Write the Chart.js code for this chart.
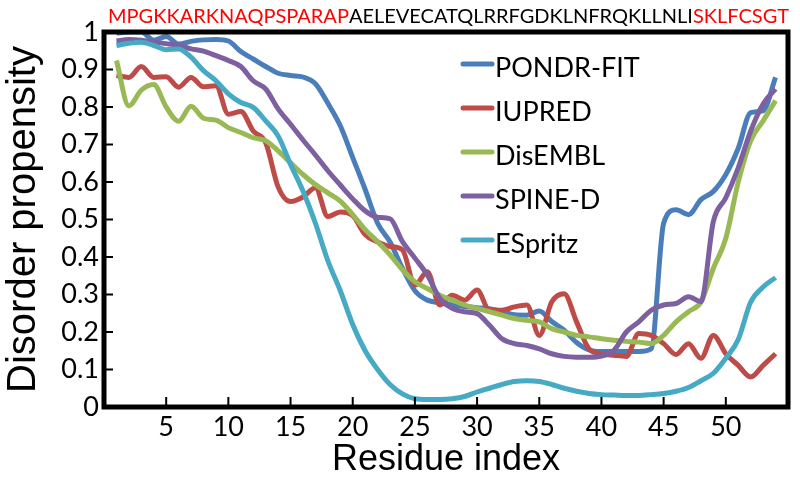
<!DOCTYPE html>
<html>
<head>
<meta charset="utf-8">
<script src="https://cdn.jsdelivr.net/npm/chart.js@4.4.1/dist/chart.umd.min.js"></script>
<style>
  html, body { margin: 0; padding: 0; background: #fff; }
</style>
</head>
<body>
<canvas id="chart" width="800" height="482"></canvas>
<script>
// residue positions along the sequence
const residues = [1, 2, 3, 4, 5, 6, 7, 8, 9, 10, 11, 12, 13, 14, 15, 16, 17, 18,
  19, 20, 21, 22, 23, 24, 25, 26, 27, 28, 29, 30, 31, 32, 33, 34, 35, 36,
  37, 38, 39, 40, 41, 42, 43, 44, 45, 46, 47, 48, 49, 50, 51, 52, 53, 54];

// sequence shown above the plot (red = disordered ends)
const seqStart = "MPGKKARKNAQPSPARAP";
const seqMiddle = "AELEVECATQLRRFGDKLNFRQKLLNLI";
const seqEnd = "SKLFCSGT";

const seriesNames = ["PONDR-FIT", "IUPRED", "DisEMBL", "SPINE-D", "ESpritz"];
const seriesColors = ["#4a7ebb", "#be4b48", "#98b954", "#7d60a0", "#46aac5"];

const pondrFit = [0.997, 1.0, 1.0, 0.978, 0.988, 0.968, 0.975, 0.979, 0.98, 0.976,
  0.948, 0.928, 0.908, 0.89, 0.884, 0.88, 0.862, 0.81, 0.75, 0.665,
  0.58, 0.49, 0.44, 0.37, 0.31, 0.285, 0.278, 0.272, 0.268, 0.265,
  0.262, 0.255, 0.246, 0.245, 0.256, 0.228, 0.205, 0.172, 0.152, 0.148,
  0.148, 0.148, 0.148, 0.155, 0.49, 0.526, 0.513, 0.553, 0.575, 0.62,
  0.69, 0.785, 0.79, 0.879];

const iupred = [0.884, 0.879, 0.908, 0.879, 0.881, 0.853, 0.879, 0.854, 0.857, 0.781,
  0.788, 0.736, 0.705, 0.587, 0.548, 0.56, 0.585, 0.508, 0.52, 0.51,
  0.46, 0.44, 0.428, 0.419, 0.325, 0.361, 0.272, 0.298, 0.285, 0.312,
  0.258, 0.258, 0.267, 0.272, 0.191, 0.28, 0.302, 0.227, 0.155, 0.142,
  0.138, 0.135, 0.196, 0.191, 0.169, 0.14, 0.169, 0.13, 0.191, 0.142,
  0.111, 0.08, 0.111, 0.142];

const disembl = [0.924, 0.803, 0.845, 0.86, 0.80, 0.762, 0.802, 0.77, 0.765, 0.745,
  0.732, 0.718, 0.71, 0.683, 0.651, 0.62, 0.593, 0.571, 0.549, 0.513,
  0.473, 0.441, 0.406, 0.366, 0.334, 0.316, 0.298, 0.285, 0.272, 0.263,
  0.254, 0.245, 0.236, 0.231, 0.227, 0.209, 0.2, 0.191, 0.187, 0.182,
  0.178, 0.175, 0.173, 0.169, 0.191, 0.227, 0.254, 0.28, 0.37, 0.45,
  0.6, 0.71, 0.763, 0.817];

const spineD = [0.976, 0.98, 0.978, 0.973, 0.969, 0.964, 0.955, 0.949, 0.937, 0.924,
  0.908, 0.87, 0.848, 0.795, 0.754, 0.712, 0.672, 0.63, 0.592, 0.555,
  0.523, 0.506, 0.502, 0.441, 0.397, 0.352, 0.29, 0.263, 0.254, 0.249,
  0.218, 0.182, 0.169, 0.164, 0.155, 0.142, 0.135, 0.133, 0.133, 0.136,
  0.151, 0.2, 0.227, 0.258, 0.272, 0.276, 0.294, 0.281, 0.495, 0.558,
  0.638, 0.736, 0.808, 0.848];

const espritz = [0.964, 0.97, 0.973, 0.964, 0.953, 0.955, 0.933, 0.897, 0.87, 0.835,
  0.812, 0.799, 0.763, 0.723, 0.647, 0.576, 0.49, 0.39, 0.31, 0.22,
  0.15, 0.10, 0.06, 0.035, 0.022, 0.02, 0.02, 0.022, 0.028, 0.04,
  0.05, 0.06, 0.068, 0.07, 0.068, 0.06, 0.05, 0.042, 0.036, 0.033,
  0.032, 0.031, 0.031, 0.033, 0.036, 0.042, 0.052, 0.07, 0.09, 0.13,
  0.18, 0.28, 0.32, 0.345];

const xTickLabels = ["", "5", "10", "15", "20", "25", "30", "35", "40", "45", "50", ""];
const yTickLabels = ["0", "0.1", "0.2", "0.3", "0.4", "0.5", "0.6", "0.7", "0.8", "0.9", "1"];

const allSeries = [pondrFit, iupred, disembl, spineD, espritz];

const tickFont = { family: "Lato", size: 27 };

// thick box round the plot + small inward tick marks
const framePlugin = {
  id: "frame",
  afterDatasetsDraw(chart) {
    const { ctx, chartArea: a, scales } = chart;
    ctx.save();
    ctx.strokeStyle = "#000";
    ctx.lineWidth = 2;
    ctx.beginPath();
    scales.y.ticks.forEach((t, i) => {
      if (i === 0 || i === scales.y.ticks.length - 1) return;
      const y = scales.y.getPixelForValue(t.value);
      ctx.moveTo(a.left, y);
      ctx.lineTo(a.left + 9, y);
    });
    scales.x.ticks.forEach((t, i) => {
      if (i === 0 || i === scales.x.ticks.length - 1) return;
      const x = scales.x.getPixelForValue(t.value);
      ctx.moveTo(x, a.bottom);
      ctx.lineTo(x, a.bottom - 10);
    });
    ctx.stroke();
    ctx.lineWidth = 5;
    ctx.strokeRect(a.left, a.top, a.right - a.left, a.bottom - a.top);
    ctx.restore();
  }
};

const legendPlugin = {
  id: "lineLegend",
  afterDraw(chart) {
    const ctx = chart.ctx;
    ctx.save();
    ctx.font = "27px Lato";
    ctx.textBaseline = "middle";
    ctx.textAlign = "left";
    chart.data.datasets.forEach((ds, i) => {
      const y = 64 + i * 44;
      ctx.strokeStyle = ds.borderColor;
      ctx.lineWidth = 5;
      ctx.lineCap = "round";
      ctx.beginPath();
      ctx.moveTo(463, y);
      ctx.lineTo(492, y);
      ctx.stroke();
      ctx.fillStyle = "#000";
      ctx.fillText(ds.label, 495, y + 4);
    });
    ctx.restore();
  }
};

const sequencePlugin = {
  id: "sequence",
  afterDraw(chart) {
    const { ctx, chartArea: a } = chart;
    ctx.save();
    ctx.font = "20px Lato";
    ctx.textBaseline = "alphabetic";
    ctx.textAlign = "left";
    const parts = [[seqStart, "#ff0000"], [seqMiddle, "#000"], [seqEnd, "#ff0000"]];
    const total = ctx.measureText(seqStart + seqMiddle + seqEnd).width;
    const left = a.left + 4;
    const span = a.right - left;
    ctx.translate(left, 23);
    ctx.scale(span / total, 1);
    let x = 0;
    parts.forEach(([txt, col]) => {
      ctx.fillStyle = col;
      ctx.fillText(txt, x, 0);
      x += ctx.measureText(txt).width;
    });
    ctx.restore();
  }
};

new Chart(document.getElementById("chart"), {
  type: "line",
  data: {
    labels: residues,
    datasets: seriesNames.map((name, i) => ({
      label: name,
      data: allSeries[i],
      borderColor: seriesColors[i],
      backgroundColor: seriesColors[i],
      borderWidth: 5,
      pointRadius: 0,
      cubicInterpolationMode: "monotone",
      order: seriesNames.length - i
    }))
  },
  options: {
    responsive: false,
    devicePixelRatio: 1,
    animation: false,
    layout: { padding: { top: 32, right: 12, left: 0, bottom: 0 } },
    plugins: {
      legend: { display: false },
      tooltip: { enabled: false }
    },
    scales: {
      x: {
        type: "linear",
        min: 0,
        max: 55,
        grid: { display: false, drawTicks: false },
        border: { display: false },
        ticks: {
          stepSize: 5,
          autoSkip: false,
          maxRotation: 0,
          padding: 4,
          color: "#000",
          font: tickFont,
          callback: (v, i) => xTickLabels[i]
        },
        title: {
          display: true,
          text: "Residue index",
          color: "#000",
          font: { family: "Liberation Sans", size: 36 },
          padding: { top: 0, bottom: 0 }
        },
        afterFit: s => { s.height = 75; }
      },
      y: {
        min: 0,
        max: 1,
        grid: { display: false, drawTicks: false },
        border: { display: false },
        ticks: {
          stepSize: 0.1,
          padding: 5,
          color: "#000",
          font: tickFont,
          callback: (v, i) => yTickLabels[i]
        },
        title: {
          display: true,
          text: "Disorder propensity",
          color: "#000",
          font: { family: "Liberation Sans", size: 40 },
          padding: 0
        },
        afterFit: s => { s.width = 104; }
      }
    }
  },
  plugins: [framePlugin, legendPlugin, sequencePlugin]
});
</script>
</body>
</html>
